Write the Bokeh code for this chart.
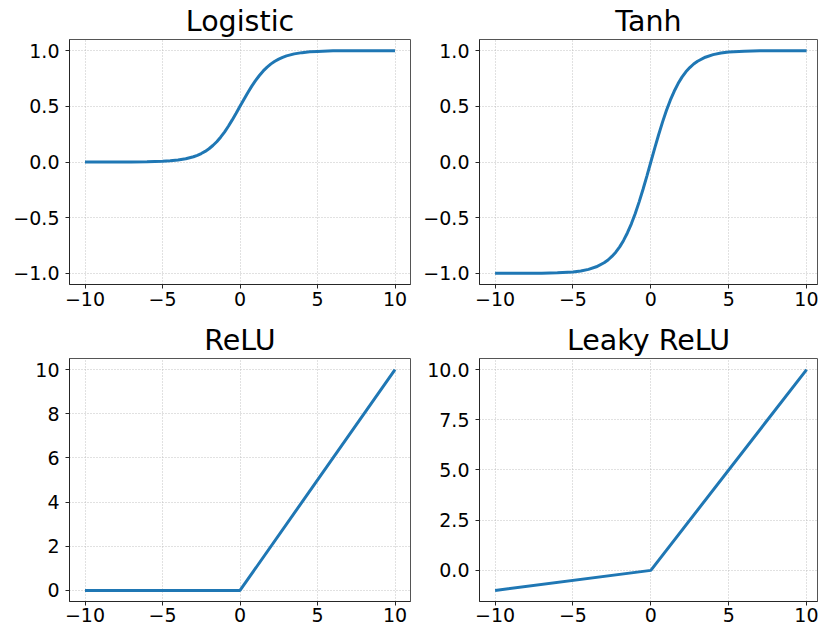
from bokeh.plotting import figure
from bokeh.layouts import gridplot
from bokeh.models import Range1d, FixedTicker
from bokeh.embed import file_html
from bokeh.resources import INLINE

# ---- data -------------------------------------------------------------
x_smooth = [-10, -9, -8, -7, -6, -5, -4.5, -4, -3.5, -3, -2.75, -2.5, -2.25,
            -2, -1.75, -1.5, -1.25, -1, -0.75, -0.5, -0.25, 0, 0.25, 0.5,
            0.75, 1, 1.25, 1.5, 1.75, 2, 2.25, 2.5, 2.75, 3, 3.5, 4, 4.5, 5,
            6, 7, 8, 9, 10]

logistic_y = [0.0, 0.0, 0.0, 0.001, 0.002, 0.007, 0.011, 0.018, 0.029, 0.047,
              0.060, 0.076, 0.095, 0.119, 0.148, 0.182, 0.223, 0.269, 0.321,
              0.378, 0.438, 0.5, 0.562, 0.622, 0.679, 0.731, 0.777, 0.818,
              0.852, 0.881, 0.905, 0.924, 0.940, 0.953, 0.971, 0.982, 0.989,
              0.993, 0.998, 0.999, 1.0, 1.0, 1.0]

tanh_y = [-0.9999, -0.9998, -0.9993, -0.998, -0.995, -0.987, -0.978, -0.964,
          -0.941, -0.905, -0.880, -0.848, -0.810, -0.762, -0.704, -0.635,
          -0.555, -0.462, -0.358, -0.245, -0.124, 0.0, 0.124, 0.245, 0.358,
          0.462, 0.555, 0.635, 0.704, 0.762, 0.810, 0.848, 0.880, 0.905,
          0.941, 0.964, 0.978, 0.987, 0.995, 0.998, 0.9993, 0.9998, 0.9999]

x_relu = [-10, 0, 10]
relu_y = [0, 0, 10]
leaky_relu_y = [-1, 0, 10]

titles = ["Logistic", "Tanh", "ReLU", "Leaky ReLU"]

x_ticks = [-10, -5, 0, 5, 10]
x_tick_labels = ["\u221210", "\u22125", "0", "5", "10"]

sig_ticks = [-1.0, -0.5, 0.0, 0.5, 1.0]
sig_tick_labels = ["\u22121.0", "\u22120.5", "0.0", "0.5", "1.0"]

relu_ticks = [0, 2, 4, 6, 8, 10]
relu_tick_labels = ["0", "2", "4", "6", "8", "10"]

leaky_ticks = [0.0, 2.5, 5.0, 7.5, 10.0]
leaky_tick_labels = ["0.0", "2.5", "5.0", "7.5", "10.0"]

# ---- styling ----------------------------------------------------------
FONT = "DejaVu Sans"
LINE_COLOR = "#1f77b4"


def make_panel(title, xs, ys, x_end, y_range, yticks, ylabels,
               width, height, borders, x_standoff):
    left, right, top, bottom = borders
    p = figure(width=width, height=height, output_backend="svg",
               toolbar_location=None,
               x_range=Range1d(-11, x_end), y_range=Range1d(*y_range),
               min_border_left=left, min_border_right=right,
               min_border_top=top, min_border_bottom=bottom)
    p.title.text = title
    p.title.align = "center"
    p.title.text_font = FONT
    p.title.text_font_size = "28.5px"
    p.title.text_font_style = "normal"
    p.title.text_color = "#000000"
    p.title.standoff = 3

    p.line(xs, ys, line_color=LINE_COLOR, line_width=3, line_cap="butt")

    p.outline_line_color = "#555555"
    p.outline_line_width = 1
    p.background_fill_color = "white"
    p.border_fill_color = "white"

    p.xaxis.ticker = FixedTicker(ticks=x_ticks)
    p.xaxis.major_label_overrides = dict(zip(x_ticks, x_tick_labels))
    p.yaxis.ticker = FixedTicker(ticks=yticks)
    p.yaxis.major_label_overrides = dict(zip(yticks, ylabels))

    for ax in (p.xaxis, p.yaxis):
        ax.axis_line_color = "#262626"
        ax.axis_line_width = 1
        ax.major_tick_line_color = "#262626"
        ax.major_tick_in = 0
        ax.major_tick_out = 4
        ax.minor_tick_line_color = None
        ax.major_label_text_font = FONT
        ax.major_label_text_font_size = "19px"
        ax.major_label_text_color = "#000000"
    p.xaxis.major_label_standoff = x_standoff
    p.yaxis.major_label_standoff = 6

    for g in (p.xgrid, p.ygrid):
        g.grid_line_color = "#b4b4b4"
        g.grid_line_width = 0.8
        g.grid_line_dash = "1 2"
    p.xgrid.ticker = FixedTicker(ticks=x_ticks)
    p.ygrid.ticker = FixedTicker(ticks=yticks)
    return p


p1 = make_panel(titles[0], x_smooth, logistic_y, 11, (-1.1, 1.1),
                sig_ticks, sig_tick_labels, 420, 320, (69, 10, 39, 36), 3)
p2 = make_panel(titles[1], x_smooth, tanh_y, 10.7, (-1.1, 1.1),
                sig_ticks, sig_tick_labels, 398, 320, (59, 1, 39, 36), 3)
p3 = make_panel(titles[2], x_relu, relu_y, 11, (-0.5, 10.5),
                relu_ticks, relu_tick_labels, 420, 310, (69, 10, 37, 29), 2)
p4 = make_panel(titles[3], x_relu, leaky_relu_y, 10.7, (-1.55, 10.55),
                leaky_ticks, leaky_tick_labels, 398, 310, (59, 1, 37, 29), 2)

grid = gridplot([[p1, p2], [p3, p4]], toolbar_location=None)

open("out.html", "w").write(file_html(grid, INLINE))
